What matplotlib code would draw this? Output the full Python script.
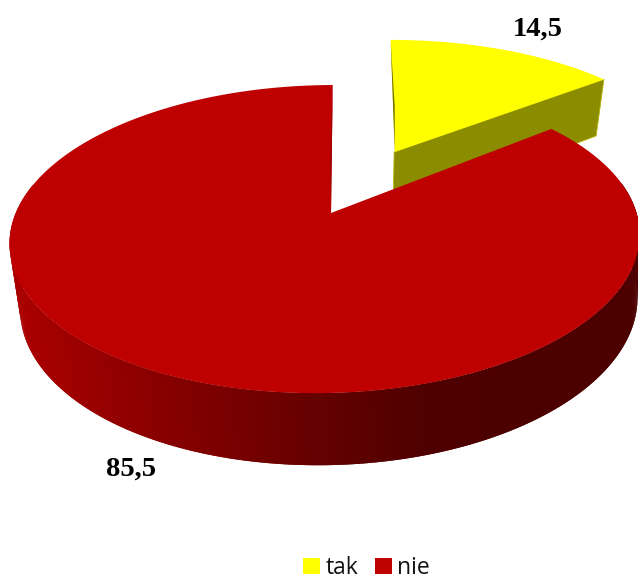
import numpy as np
import matplotlib
matplotlib.use("Agg")
import matplotlib.pyplot as plt
from matplotlib.collections import PolyCollection
from matplotlib.patches import Polygon, Patch

categories = ["tak", "nie"]
values = [14.5, 85.5]
value_labels = ["14,5", "85,5"]
colors = ["#FFFF00", "#BE0000"]

# perspective model of the tilted pie (pixels)
CX, CY = 331.0, 213.0
B, K = 149.6, 0.169
H, C = 64.9, 0.02
EXPLODE_TAK = 0.488
VIEW_RED = dict(R=310.4, L=0.019, S=-3.0, T=2.0, DX=4.0)
VIEW_TAK = dict(R=316.0, L=0.0, S=0.0, T=0.0, DX=0.0)
TAK_SHEAR = 0.045


def project(x, y, z=0.0, R=316.0, L=0.0, S=0.0, T=0.0, DX=0.0):
    w = 1 + K * y + L * x + C * z
    return CX + (R * x + T * y) / w + DX * z, CY + (H * z - B * y + S * x) / w


def rim(start, stop, off, n=220):
    t = np.linspace(start, stop, n)
    return np.sin(t) + off[0], np.cos(t) + off[1]


def red_shade(px):
    return np.interp(px, [15, 170, 320, 430, 640], [172, 135, 100, 78, 76]) / 255


def sliver(p_top, p_apex, inset, color, zorder):
    """Thin dark cut face seen almost edge-on along a slice's straight edge."""
    mx = p_top[0] + 0.6 * (p_apex[0] - p_top[0])
    my = p_top[1] + 0.6 * (p_apex[1] - p_top[1])
    ax.add_patch(Polygon([p_top, p_apex, (mx + inset, my)], fc=color, ec="none", zorder=zorder))


fig = plt.figure(figsize=(6.38, 5.76), dpi=100)
ax = fig.add_axes([0, 0, 1, 1])
ax.set_xlim(0, 638)
ax.set_ylim(576, 0)
ax.axis("off")

fracs = np.array(values) / sum(values)
edges = np.concatenate([[0], np.cumsum(fracs)]) * 2 * np.pi

# yellow slice (pulled out, drawn behind the red one)
mid = (edges[0] + edges[1]) / 2
off = (EXPLODE_TAK * np.sin(mid), EXPLODE_TAK * np.cos(mid))
rx, ry = rim(edges[0], edges[1], off)
tx, ty = project(rx, ry, **VIEW_TAK)
bx, by = project(rx, ry, 1, **VIEW_TAK)
ax0, ay0 = project(off[0], off[1], **VIEW_TAK)
ax1, ay1 = project(off[0], off[1], 1, **VIEW_TAK)
tx = tx + TAK_SHEAR * (ay0 - ty)
wall = "#8C8C00"
ax.add_patch(Polygon([(ax0, ay0), (tx[-1], ty[-1]), (bx[-1], by[-1]), (ax1, ay1)], fc=wall, ec="#B5B500", lw=0.6, zorder=1))
ax.add_patch(Polygon(np.c_[np.r_[ax0 + 0.6, tx], np.r_[ay0, ty]], fc=colors[0], ec="none", zorder=2))
sliver((tx[0], ty[0]), (ax0 + 0.6, ay0), 1.6, "#6E6E00", 2.5)

# red slice: only the rim's near part shows a wall
rx, ry = rim(edges[1], edges[2], (0, 0), 500)
tx, ty = project(rx, ry, **VIEW_RED)
bx, by = project(rx, ry, 1, **VIEW_RED)
n = len(tx) - 2
front = [i for i in range(n) if ry[i] < 0.2]
quads = [[(tx[i], ty[i]), (tx[i + 2], ty[i + 2]), (bx[i + 2], by[i + 2]), (bx[i], by[i])] for i in front]
shades = [(red_shade((tx[i] + bx[i]) / 2), 0, 0) for i in front]
ax.add_collection(PolyCollection(quads, facecolors=shades, edgecolors="none", zorder=3))
ax.add_patch(Polygon(np.c_[np.r_[CX, tx], np.r_[CY, ty]], fc=colors[1], ec="none", zorder=4))
sliver((tx[-1], ty[-1]), (CX, CY), -1.4, "#960000", 4.5)

ax.text(538, 29, value_labels[0], family="Liberation Serif", weight="bold", fontsize=20.5,
        ha="center", va="center", color="black", zorder=5)
ax.text(131, 469.5, value_labels[1], family="Liberation Serif", weight="bold", fontsize=20.5,
        ha="center", va="center", color="black", zorder=5)

handles = [Patch(fc=c, ec="none", label=l) for c, l in zip(colors, categories)]
fig.legend(handles=handles, loc="center", bbox_to_anchor=(366.5 / 638, 1 - 568 / 576), ncol=2,
           frameon=False, prop={"family": "Open Sans", "size": 16.5}, labelcolor="#111111",
           handlelength=0.75, handleheight=0.75,
           handletextpad=0.25, columnspacing=0.7, borderpad=0, borderaxespad=0)

fig.savefig("out.png", dpi=100)
